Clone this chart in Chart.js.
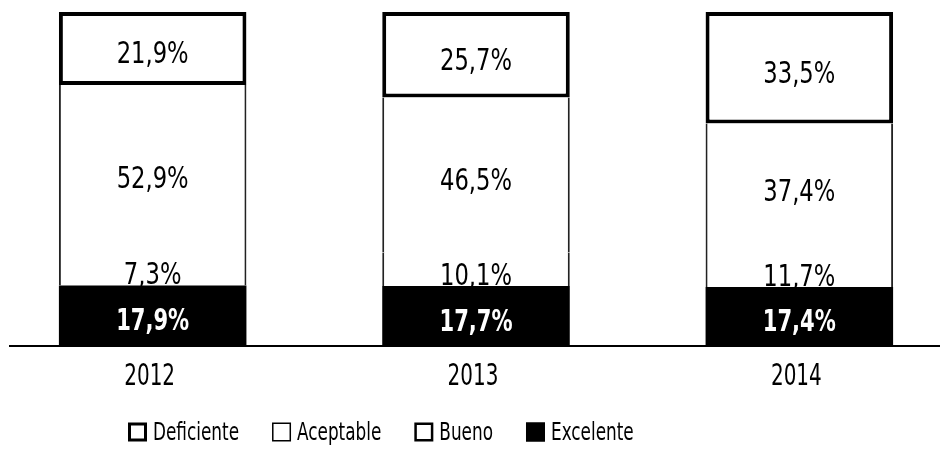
<!DOCTYPE html>
<html>
<head>
<meta charset="utf-8">
<script src="https://cdn.jsdelivr.net/npm/chart.js@4.4.1/dist/chart.umd.min.js"></script>
<style>
  html, body { margin: 0; padding: 0; background: #fff; overflow: hidden; }
  #wrap { position: absolute; left: -9px; top: 0; width: 970px; height: 457px; }
</style>
</head>
<body>
<div id="wrap"><canvas id="graficoCalidad"></canvas></div>
<script>
// Porcentajes por año (de abajo hacia arriba en la barra)
const anios = ["2012", "2013", "2014"];
const excelente = [17.9, 17.7, 17.4];
const bueno = [7.3, 10.1, 11.7];
const aceptable = [52.9, 46.5, 37.4];
const deficiente = [21.9, 25.7, 33.5];

const FUENTE = '"Liberation Sans Narrow", "Arial Narrow", "DejaVu Sans Condensed", sans-serif';

const formatear = v => v.toFixed(1).replace(".", ",") + "%";

// Texto angosto: se comprime en horizontal para imitar una fuente condensada
function textoAngosto(ctx, texto, x, y, escala) {
  ctx.save();
  ctx.translate(x, y);
  ctx.scale(escala, 1);
  ctx.fillText(texto, 0, 0);
  ctx.restore();
}

// Línea base: arranca un poco a la derecha del borde izquierdo
const lineaBase = {
  id: "lineaBase",
  afterDatasetsDraw(chart) {
    const { ctx, chartArea } = chart;
    ctx.save();
    ctx.strokeStyle = "#000";
    ctx.lineWidth = 2;
    ctx.beginPath();
    ctx.moveTo(chartArea.left + 18, chartArea.bottom + 1);
    ctx.lineTo(chartArea.right, chartArea.bottom + 1);
    ctx.stroke();
    ctx.restore();
  }
};

// Etiquetas de valor dentro de cada tramo
const etiquetasValor = {
  id: "etiquetasValor",
  afterDatasetsDraw(chart) {
    const ctx = chart.ctx;
    ctx.save();
    ctx.textAlign = "center";
    ctx.textBaseline = "alphabetic";
    chart.data.datasets.forEach((ds, i) => {
      const meta = chart.getDatasetMeta(i);
      meta.data.forEach((bar, j) => {
        const { x, y, base } = bar.getProps(["x", "y", "base"], true);
        ctx.fillStyle = ds.colorTexto;
        ctx.font = (ds.negrita ? "bold " : "") + "30px " + FUENTE;
        const yTexto = ds.label === "Bueno" ? base - 1 : (y + base) / 2 + 15;
        textoAngosto(ctx, formatear(ds.data[j]), x, yTexto, ds.negrita ? 0.78 : 0.84);
      });
    });
    ctx.restore();
  }
};

// Años bajo el eje, tomados de la escala x
const etiquetasAnio = {
  id: "etiquetasAnio",
  afterDraw(chart) {
    const ctx = chart.ctx;
    const escalaX = chart.scales.x;
    ctx.save();
    ctx.font = "30px " + FUENTE;
    ctx.fillStyle = "#000";
    ctx.textAlign = "center";
    ctx.textBaseline = "alphabetic";
    escalaX.ticks.forEach((t, i) => {
      const x = escalaX.getPixelForTick(i) - 3;
      textoAngosto(ctx, escalaX.getLabelForValue(t.value), x, 385, 0.74);
    });
    ctx.restore();
  }
};

// Leyenda inferior con los cuadros de cada categoría
const leyenda = {
  id: "leyenda",
  afterDraw(chart) {
    const ctx = chart.ctx;
    const escala = 0.75;
    ctx.save();
    ctx.font = "25px " + FUENTE;
    ctx.textBaseline = "middle";
    ctx.textAlign = "left";
    let x = 137;
    const y = 432;
    const lado = 19;
    chart.data.datasets.slice().reverse().forEach(ds => {
      ctx.fillStyle = ds.backgroundColor;
      ctx.fillRect(x, y - lado / 2, lado, lado);
      ctx.strokeStyle = "#000";
      ctx.lineWidth = ds.bordeLeyenda;
      const m = ds.bordeLeyenda / 2;
      ctx.strokeRect(x + m, y - lado / 2 + m, lado - 2 * m, lado - 2 * m);
      ctx.fillStyle = "#000";
      textoAngosto(ctx, ds.label, x + lado + 6, y + 1, escala);
      x += lado + 6 + ctx.measureText(ds.label).width * escala + 33;
    });
    ctx.restore();
  }
};

const ctx = document.getElementById("graficoCalidad").getContext("2d");

new Chart(ctx, {
  type: "bar",
  data: {
    labels: anios,
    datasets: [
      {
        label: "Excelente", data: excelente,
        backgroundColor: "#000", borderWidth: 0,
        colorTexto: "#fff", negrita: true, bordeLeyenda: 1
      },
      {
        label: "Bueno", data: bueno,
        backgroundColor: "#fff", borderColor: "#222",
        borderWidth: { top: 0, bottom: 0, left: 2, right: 2 }, borderSkipped: false,
        colorTexto: "#000", bordeLeyenda: 2.5
      },
      {
        label: "Aceptable", data: aceptable,
        backgroundColor: "#fff", borderColor: "#222",
        borderWidth: { top: 0, bottom: 0, left: 2, right: 2 }, borderSkipped: false,
        colorTexto: "#000", bordeLeyenda: 1.5
      },
      {
        label: "Deficiente", data: deficiente,
        backgroundColor: "#fff", borderColor: "#000",
        borderWidth: 4, borderSkipped: false,
        colorTexto: "#000", bordeLeyenda: 3
      }
    ]
  },
  options: {
    responsive: true,
    maintainAspectRatio: false,
    animation: false,
    layout: { padding: { top: 12, bottom: 0, left: 0, right: 0 } },
    datasets: { bar: { categoryPercentage: 1, barPercentage: 0.58 } },
    plugins: {
      legend: { display: false },
      tooltip: { enabled: false }
    },
    scales: {
      x: {
        stacked: true,
        grid: { display: false },
        border: { display: false },
        ticks: { display: false },
        afterFit: s => { s.height = 112; }
      },
      y: {
        stacked: true,
        display: false,
        min: 0,
        max: 100
      }
    }
  },
  plugins: [lineaBase, etiquetasValor, etiquetasAnio, leyenda]
});
</script>
</body>
</html>
